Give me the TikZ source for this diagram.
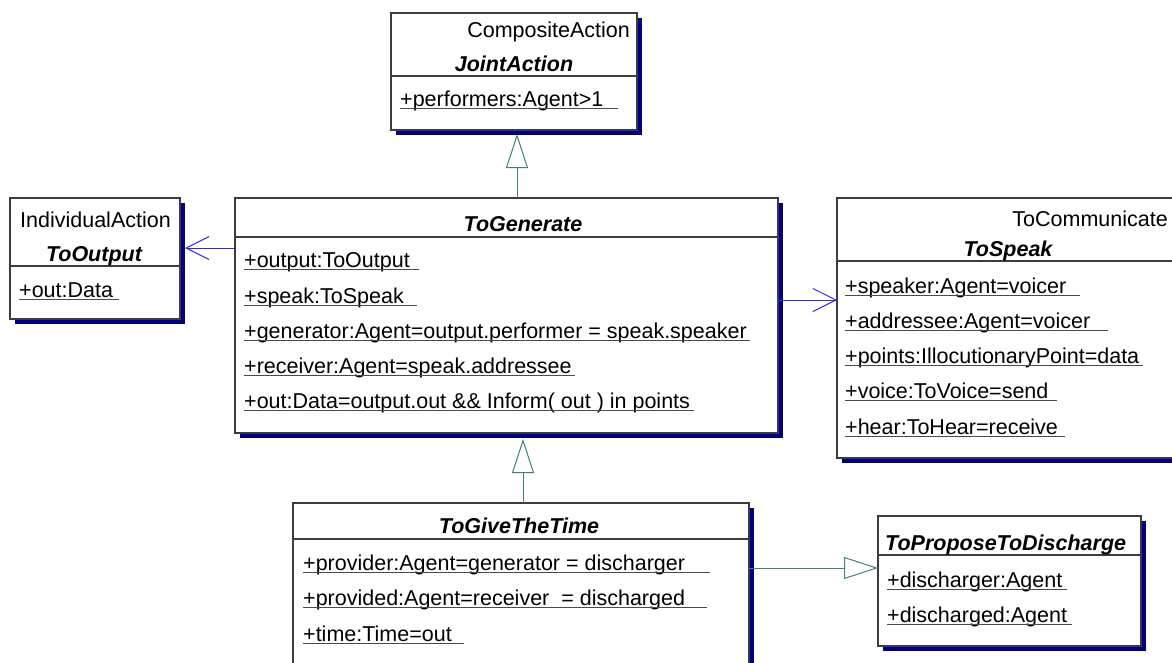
\documentclass[tikz,border=0pt]{standalone}
\usepackage{fontspec}
\setmainfont{Liberation Sans}
\usetikzlibrary{arrows.meta,shadows}
\definecolor{boxc}{HTML}{3C3C3C}
\definecolor{shadowc}{HTML}{000080}
\definecolor{genc}{HTML}{3F7F7F}
\definecolor{assc}{HTML}{2A2AE6}
\definecolor{ulc}{HTML}{4A4A4A}

% attribute line: name, x, baseline y, underline end x, text
\newcommand\umlattr[5]{%
  \node[attr] (#1) at (#2,#3) {#5};
  \draw[uline] ([yshift=-2.5pt]#1.base west) -- (#4,#3+2.5);}
% compartment divider of a class box at height y
\newcommand\umldiv[2]{%
  \draw[divline] (#1.west |- 0,#2) -- (#1.east |- 0,#2);}

\begin{document}
\begin{tikzpicture}[x=1pt,y=-1pt,
  font=\fontsize{21.5}{25}\selectfont,
  classbox/.style={draw=boxc, line width=1.2pt, fill=white, rectangle,
    anchor=north west, inner sep=0pt, outer sep=0pt,
    drop shadow={shadow xshift=5pt, shadow yshift=-5pt, fill=shadowc, opacity=1}},
  divline/.style={draw=boxc, line width=1.2pt},
  attr/.style={inner sep=0pt, anchor=base west},
  stereo/.style={inner sep=0pt, anchor=base east},
  title/.style={inner sep=0pt, anchor=base, font=\fontsize{21.5}{25}\selectfont\bfseries\itshape},
  uline/.style={draw=ulc, line width=0.9pt},
  genarrow/.style={draw=genc, line width=1pt, -{Triangle[length=34pt,width=22pt,fill=white,line width=1pt]}},
  assarrow/.style={draw=assc, line width=1pt, -{Straight Barb[length=23pt,width=23pt,line width=1pt]}}]

\useasboundingbox (0,0) rectangle (1172,662);
\clip (0,0) rectangle (1172,662);
\fill[white] (0,0) rectangle (1172,662);

% class boxes
\node[classbox, minimum width=246, minimum height=117] (joint) at (391,13) {};
\node[classbox, minimum width=170, minimum height=121] (out) at (10,198) {};
\node[classbox, minimum width=543, minimum height=235] (gen) at (235,198) {};
\node[classbox, minimum width=345, minimum height=260] (speak) at (837,198) {};
\node[classbox, minimum width=456, minimum height=170] (give) at (293,503) {};
\node[classbox, minimum width=263, minimum height=130] (prop) at (878,516) {};

\umldiv{joint}{76}
\umldiv{out}{266}
\umldiv{gen}{237}
\umldiv{speak}{261}
\umldiv{give}{539}
\umldiv{prop}{555}

% JointAction
\node[stereo] (jointS) at (630,37) {CompositeAction};
\node[title] (jointT) at (514,71) {JointAction};
\umlattr{jointA}{400}{106}{618}{+performers:Agent>1}

% ToOutput
\node[stereo] (outS) at (171,227) {IndividualAction};
\node[title] (outT) at (94,261) {ToOutput};
\umlattr{outA}{19}{297}{119}{+out:Data}

% ToGenerate
\node[title] (genT) at (523,231) {ToGenerate};
\umlattr{genA}{244}{267}{419}{+output:ToOutput}
\umlattr{genB}{244}{303}{417}{+speak:ToSpeak}
\umlattr{genC}{244}{338}{750}{+generator:Agent=output.performer = speak.speaker}
\umlattr{genD}{244}{373}{575}{+receiver:Agent=speak.addressee}
\umlattr{genE}{244}{408}{694}{+out:Data=output.out \&\& Inform( out ) in points}

% ToSpeak
\node[stereo] (speakS) at (1168,226) {ToCommunicate};
\node[title] (speakT) at (1008,256) {ToSpeak};
\umlattr{speakA}{845}{293}{1080}{+speaker:Agent=voicer}
\umlattr{speakB}{845}{328}{1108}{+addressee:Agent=voicer}
\umlattr{speakC}{845}{363}{1143}{+points:IllocutionaryPoint=data}
\umlattr{speakD}{845}{398}{1057}{+voice:ToVoice=send}
\umlattr{speakE}{845}{434}{1065}{+hear:ToHear=receive}

% ToGiveTheTime
\node[title] (giveT) at (519,533) {ToGiveTheTime};
\umlattr{giveA}{303}{570}{710}{+provider:Agent=generator = discharger}
\umlattr{giveB}{303}{605}{707}{+provided:Agent=receiver\ \ = discharged}
\umlattr{giveC}{303}{641}{464}{+time:Time=out}

% ToProposeToDischarge
\node[title, anchor=base west] (propT) at (885,550) {ToProposeToDischarge};
\umlattr{propA}{887}{587}{1067}{+discharger:Agent}
\umlattr{propB}{887}{622}{1072}{+discharged:Agent}

% generalizations
\draw[genarrow] ([xshift=3pt]joint.south |- gen.north) -- ([xshift=3pt,yshift=-4pt]joint.south);
\path (give.north |- gen.south) coordinate (genB0);
\draw[genarrow] ([xshift=2pt]give.north) -- ([xshift=2pt,yshift=-6pt]genB0);
\path ([yshift=-65pt]give.north east) coordinate (giveR);
\draw[genarrow] (giveR) -- (giveR -| prop.west);

% associations
\path ([yshift=-50pt]gen.north west) coordinate (genL);
\path (out.east |- genL) coordinate (outR);
\draw[assarrow] (genL) -- ([xshift=5pt]outR);
\path ([yshift=-102pt]gen.north east) coordinate (genR);
\draw[assarrow] (genR) -- (genR -| speak.west);
\end{tikzpicture}
\end{document}
